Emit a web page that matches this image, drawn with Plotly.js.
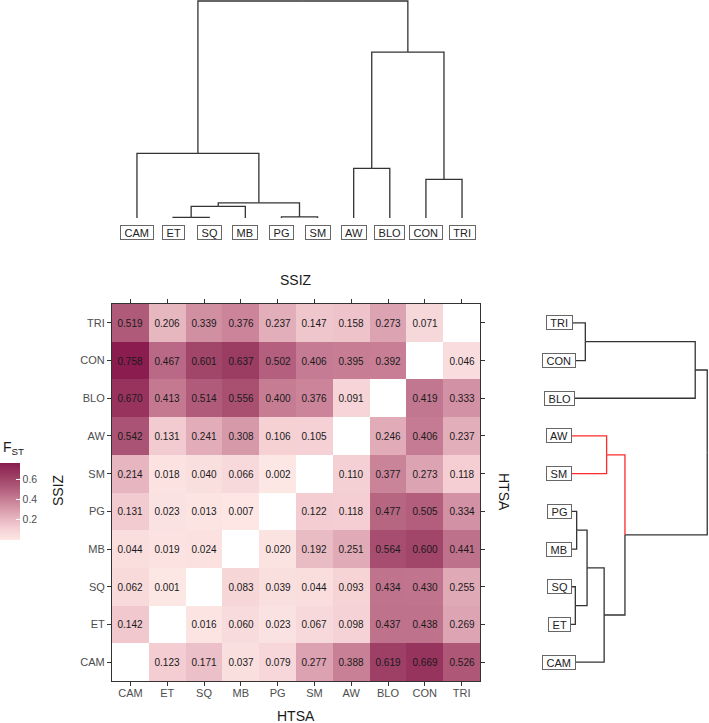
<!DOCTYPE html>
<html><head><meta charset="utf-8">
<script src="https://cdn.plot.ly/plotly-3.0.1.min.js"></script>
<style>html,body{margin:0;padding:0;background:#fff}</style>
</head><body><div id="chart" style="width:709px;height:723px"></div>
<script>
// Populations (order of heatmap columns left->right and rows bottom->top)
const pops = ['CAM','ET','SQ','MB','PG','SM','AW','BLO','CON','TRI'];
// FST values per heatmap row (columns in pops order); upper-left triangle = SSIZ, lower-right = HTSA
const rowCAM = [null, 0.123, 0.171, 0.037, 0.079, 0.277, 0.388, 0.619, 0.669, 0.526];
const rowET  = [0.142, null, 0.016, 0.060, 0.023, 0.067, 0.098, 0.437, 0.438, 0.269];
const rowSQ  = [0.062, 0.001, null, 0.083, 0.039, 0.044, 0.093, 0.434, 0.430, 0.255];
const rowMB  = [0.044, 0.019, 0.024, null, 0.020, 0.192, 0.251, 0.564, 0.600, 0.441];
const rowPG  = [0.131, 0.023, 0.013, 0.007, null, 0.122, 0.118, 0.477, 0.505, 0.334];
const rowSM  = [0.214, 0.018, 0.040, 0.066, 0.002, null, 0.110, 0.377, 0.273, 0.118];
const rowAW  = [0.542, 0.131, 0.241, 0.308, 0.106, 0.105, null, 0.246, 0.406, 0.237];
const rowBLO = [0.670, 0.413, 0.514, 0.556, 0.400, 0.376, 0.091, null, 0.419, 0.333];
const rowCON = [0.758, 0.467, 0.601, 0.637, 0.502, 0.406, 0.395, 0.392, null, 0.046];
const rowTRI = [0.519, 0.206, 0.339, 0.376, 0.237, 0.147, 0.158, 0.273, 0.071, null];
const colorTicks = [0.2, 0.4, 0.6];

// Dendrogram topologies (leaf order as drawn)
const topTree = [['CAM', [[['ET','SQ'],'MB'], ['PG','SM']]], [['AW','BLO'], ['CON','TRI']]];
const rightTree = [[['TRI','CON'],'BLO'], [['AW','SM'], [[['PG','MB'],['SQ','ET']],'CAM']]];
const highlighted = ['AW','SM'];

const z = [rowCAM,rowET,rowSQ,rowMB,rowPG,rowSM,rowAW,rowBLO,rowCON,rowTRI];
const idx = p => pops.indexOf(p);
const dSSIZ = (a,b) => { const i=idx(a), j=idx(b); return z[Math.max(i,j)][Math.min(i,j)]; };
const dHTSA = (a,b) => { const i=idx(a), j=idx(b); return z[Math.min(i,j)][Math.max(i,j)]; };

function leavesOf(t){ return typeof t === 'string' ? [t] : leavesOf(t[0]).concat(leavesOf(t[1])); }
function layoutTree(tree, dist, posOf){
  const segs = [];
  let k = 0;
  function rec(t, hl){
    const leaves = leavesOf(t);
    const isHl = hl || (leaves.length === highlighted.length && highlighted.every(x=>leaves.includes(x)));
    if (typeof t === 'string'){ const p = posOf(k++); return {p, h:0, hl:isHl}; }
    const a = rec(t[0], isHl), b = rec(t[1], isHl);
    const la = leavesOf(t[0]), lb = leavesOf(t[1]);
    let s = 0; la.forEach(x=>lb.forEach(y=>{ s += dist(x,y); }));
    const H = s/(la.length*lb.length);
    const P = (a.p+b.p)/2;
    [a,b].forEach(c=>segs.push({pts:[[P,H],[c.p,H],[c.p,c.h]], hl:c.hl}));
    return {p:P, h:H, hl:isHl};
  }
  rec(tree, false);
  return segs;
}
function segTraces(segs, swap, xa, ya){
  const out = [];
  [[false,'#333333'],[true,'#ff2b2b']].forEach(([hl,col])=>{
    const xs=[], ys=[];
    segs.filter(s=>s.hl===hl).forEach(s=>{
      s.pts.forEach(pt=>{ xs.push(swap?pt[1]:pt[0]); ys.push(swap?pt[0]:pt[1]); });
      xs.push(null); ys.push(null);
    });
    if (xs.length) out.push({type:'scatter', mode:'lines', x:xs, y:ys, xaxis:xa, yaxis:ya,
      line:{color:col, width:1.3}, hoverinfo:'skip', showlegend:false});
  });
  return out;
}

const topLeaves = leavesOf(topTree);
const rightLeaves = leavesOf(rightTree);
const topSegs = layoutTree(topTree, dSSIZ, k=>k);
const rightSegs = layoutTree(rightTree, dHTSA, k=>rightLeaves.length-1-k);

const allVals = z.flat().filter(v=>v!==null);
const zmin = Math.min(...allVals), zmax = Math.max(...allVals);
const text = z.map(r=>r.map(v=>v===null?'':v.toFixed(3)));

const font = 'Liberation Sans, Arial, sans-serif';
const heat = {
  type:'heatmap', x:pops, y:pops, z:z, text:text, texttemplate:'%{text}',
  textfont:{family:font, size:10, color:'#1a1a1a'},
  zmin:zmin, zmax:zmax, hoverinfo:'skip',
  colorscale:[[0,'#fde7e5'],[0.15,'#f4cfd3'],[0.3,'#e4b1bc'],[0.5,'#ca8399'],[0.7,'#ad5676'],[0.85,'#9a3a61'],[1,'#8b1c4f']],
  colorbar:{x:0, xanchor:'left', xref:'paper', y:1-501.5/723, yanchor:'middle', yref:'paper',
    len:77, lenmode:'pixels', thickness:20, thicknessmode:'pixels', xpad:0, ypad:0,
    outlinewidth:0, tickvals:colorTicks, ticktext:colorTicks.map(v=>v.toFixed(1)),
    ticks:'inside', ticklen:4, tickcolor:'#ffffff', tickwidth:1,
    tickfont:{family:font, size:10.5, color:'#4d4d4d'}}
};

const traces = [heat].concat(segTraces(topSegs,false,'x2','y2'), segTraces(rightSegs,true,'x3','y3'));

const ann = [];
const boxStyle = {showarrow:false, xanchor:'center', yanchor:'middle', font:{family:font,size:11,color:'#222'},
  bgcolor:'#fff', bordercolor:'#666', borderwidth:1, borderpad:0.5};
topLeaves.forEach((p,k)=>ann.push(Object.assign({text:' '+p+' ', x:k, xref:'x2', y:1-233/723, yref:'paper'}, boxStyle)));
rightLeaves.forEach((p,k)=>ann.push(Object.assign({text:' '+p+' ', x:559/709, xref:'paper', y:rightLeaves.length-1-k, yref:'y3'}, boxStyle)));
const tf = {family:font, size:14, color:'#1a1a1a'};
const tStyle = {xref:'paper', yref:'paper', showarrow:false, font:tf, xanchor:'center', yanchor:'middle'};
ann.push(Object.assign({text:'SSIZ', x:296/709, y:1-280/723}, tStyle));
ann.push(Object.assign({text:'HTSA', x:296/709, y:1-716/723}, tStyle));
ann.push(Object.assign({text:'SSIZ', x:58/709, y:1-490/723, textangle:-90}, tStyle));
ann.push(Object.assign({text:'HTSA', x:504/709, y:1-492/723, textangle:90}, tStyle));
ann.push(Object.assign({text:'F<sub>ST</sub>', x:1/709, y:1-448/723}, tStyle, {xanchor:'left'}));

const axCommon = {showgrid:false, zeroline:false, ticks:'outside', ticklen:4, tickcolor:'#333', tickwidth:1,
  showline:true, linecolor:'#333', linewidth:1, mirror:'ticks', tickfont:{family:font,size:11,color:'#4d4d4d'}, fixedrange:true};
const hidden = {visible:false, fixedrange:true, showgrid:false, zeroline:false};
const layout = {
  width:709, height:723, margin:{l:0,r:0,t:0,b:0}, paper_bgcolor:'#fff', plot_bgcolor:'#fff', showlegend:false,
  xaxis:Object.assign({}, axCommon, {domain:[112/709, 480/709], type:'category', ticklabelstandoff:-2}),
  yaxis:Object.assign({}, axCommon, {domain:[1-681/723, 1-304/723], type:'category'}),
  xaxis2:Object.assign({}, hidden, {domain:[118.9/709, 480.1/709], range:[-0.5, 9.5], anchor:'y2'}),
  yaxis2:Object.assign({}, hidden, {domain:[1-218/723, 1], range:[0, 0.4], anchor:'x2'}),
  xaxis3:Object.assign({}, hidden, {domain:[570/709, 1], range:[0, 139/333], anchor:'y3'}),
  yaxis3:Object.assign({}, hidden, {domain:[1-681/723, 1-304/723], range:[-0.5, 9.5], anchor:'x3'}),
  annotations:ann
};
Plotly.newPlot('chart', traces, layout, {displayModeBar:false, staticPlot:true});
</script></body></html>
